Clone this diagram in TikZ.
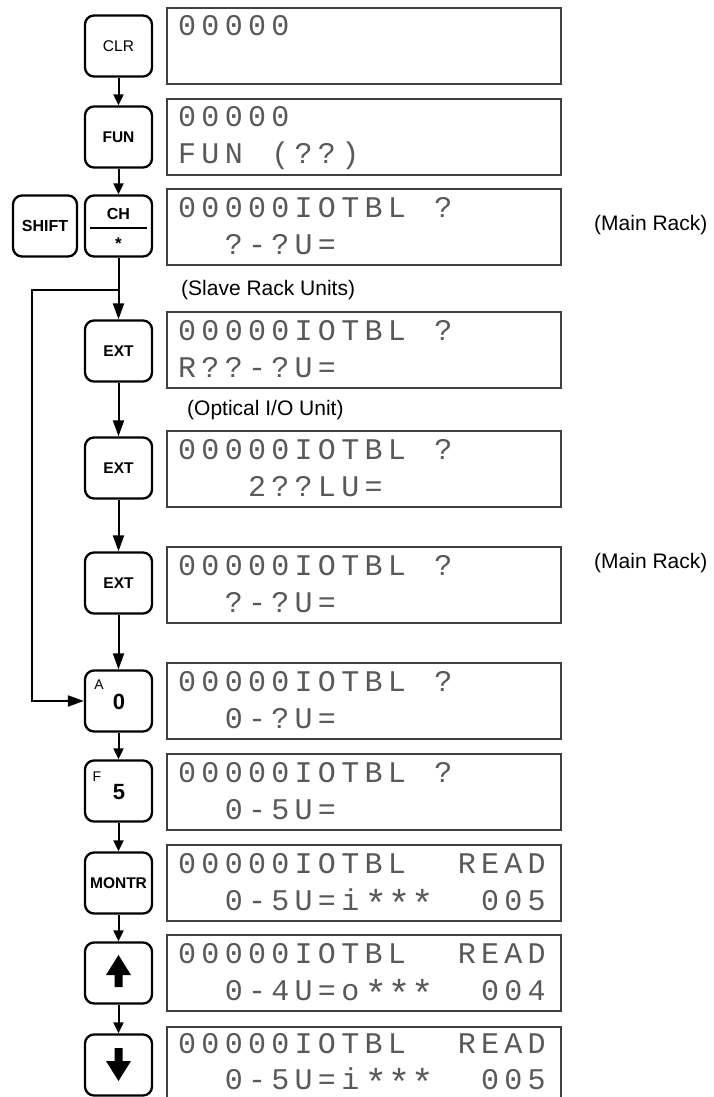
\documentclass[tikz,border=0pt]{standalone}
\usepackage{graphicx}
\usepackage{fontspec}
\setmainfont{Liberation Sans}
\newfontfamily\lcdfont{Liberation Mono}
\usetikzlibrary{arrows.meta}
\def\lcdloop#1{\ifx#1\relax\else\makebox[23.3pt][l]{\ifx#1*\raisebox{-6pt}[14pt][0pt]{\scalebox{1.25}{*}}\else#1\fi}\expandafter\lcdloop\fi}
\newcommand\lcd[1]{\lcdloop#1\relax}
\begin{document}
\begin{tikzpicture}[x=1pt,y=-1pt,
  key/.style={draw, line width=2.3pt, rounded corners=9pt, minimum width=67pt, minimum height=61pt, inner sep=0pt, font=\fontsize{15.5}{17}\selectfont\bfseries},
  lcd/.style={draw=black!75, line width=1.1pt, minimum width=394pt, minimum height=76pt, inner sep=0pt},
  lcdtxt/.style={anchor=base west, inner sep=0pt, font=\fontsize{30}{32}\lcdfont, text=black!65},
  note/.style={font=\fontsize{21}{24}\selectfont, inner sep=0pt, anchor=west},
  small/.style={inner sep=0pt, font=\fontsize{14}{14}\selectfont},
  big/.style={inner sep=0pt, font=\fontsize{22}{22}\selectfont\bfseries},
  flow/.style={line width=2pt, -{Triangle[length=11pt,width=10pt]}},
  longflow/.style={line width=2pt, -{Triangle[length=16pt,width=11pt]}},
]
\useasboundingbox (0,0) rectangle (713,1097);

% keys
\node[key, font=\fontsize{15.5}{17}\selectfont] (clr) at (118.5,46) {CLR};
\node[key] (fun) at (118.5,137) {FUN};
\node[key, minimum width=64pt, font=\fontsize{16}{17}\selectfont\bfseries] (shift) at (45,226) {SHIFT};
\node[key] (ch) at (118.5,226) {};
\node[inner sep=0pt, font=\fontsize{16}{17}\selectfont\bfseries] (chl) at (118.5,214) {CH};
\draw[line width=1.6pt] (90,228) -- (147,228);
\node[inner sep=0pt, font=\fontsize{17}{17}\selectfont\bfseries] (chs) at (118.5,244) {*};
\node[key] (ext1) at (118.5,351) {EXT};
\node[key] (ext2) at (118.5,468) {EXT};
\node[key] (ext3) at (118.5,583) {EXT};
\node[key] (a0) at (118.5,701) {};
\node[small] (a0a) at (99,685) {A};
\node[big] (a0z) at (119,702) {0};
\node[key] (f5) at (118.5,791) {};
\node[small] (f5f) at (97,777) {F};
\node[big] (f5n) at (119,792) {5};
\node[key] (montr) at (118.5,883) {MONTR};
\node[key] (up) at (118.5,973) {};
\fill (118.5,955) -- (131,975) -- (122.5,975) -- (122.5,987) -- (114.5,987) -- (114.5,975) -- (106,975) -- cycle;
\node[key] (down) at (118.5,1065) {};
\fill (118.5,1081) -- (131,1061) -- (122.5,1061) -- (122.5,1048) -- (114.5,1048) -- (114.5,1061) -- (106,1061) -- cycle;

% connectors
\coordinate (br) at (118.5,290);
\coordinate (bl) at (32,290);
\coordinate (bb) at (32,701);
\draw[flow] (clr) -- (fun);
\draw[flow] (fun) -- (ch);
\draw[longflow] (ch) -- (ext1);
\draw[longflow] (br) -- (bl) -- (bb) -- (a0);
\draw[longflow] (ext1) -- (ext2);
\draw[longflow] (ext2) -- (ext3);
\draw[longflow] (ext3) -- (a0);
\draw[flow] (a0) -- (f5);
\draw[flow] (f5) -- (montr);
\draw[flow] (montr) -- (up);
\draw[flow] (up) -- (down);

% displays
\node[lcd] (d1) at (364,46) {};
\node[lcdtxt] (t1a) at (178,36) {\lcd{00000}};
\node[lcd] (d2) at (364,137) {};
\node[lcdtxt] (t2a) at (178,127) {\lcd{00000}};
\node[lcdtxt] (t2b) at (178,164) {\lcd{FUN~(??)}};
\node[lcd] (d3) at (364,227) {};
\node[lcdtxt] (t3a) at (178,217) {\lcd{00000IOTBL~?}};
\node[lcdtxt] (t3b) at (178,254) {\lcd{~~?-?U=}};
\node[lcd] (d4) at (364,350) {};
\node[lcdtxt] (t4a) at (178,340) {\lcd{00000IOTBL~?}};
\node[lcdtxt] (t4b) at (178,377) {\lcd{R??-?U=}};
\node[lcd] (d5) at (364,469) {};
\node[lcdtxt] (t5a) at (178,459) {\lcd{00000IOTBL~?}};
\node[lcdtxt] (t5b) at (178,496) {\lcd{~~~2??LU=}};
\node[lcd] (d6) at (364,585) {};
\node[lcdtxt] (t6a) at (178,575) {\lcd{00000IOTBL~?}};
\node[lcdtxt] (t6b) at (178,612) {\lcd{~~?-?U=}};
\node[lcd] (d7) at (364,701) {};
\node[lcdtxt] (t7a) at (178,691) {\lcd{00000IOTBL~?}};
\node[lcdtxt] (t7b) at (178,728) {\lcd{~~0-?U=}};
\node[lcd] (d8) at (364,792) {};
\node[lcdtxt] (t8a) at (178,782) {\lcd{00000IOTBL~?}};
\node[lcdtxt] (t8b) at (178,819) {\lcd{~~0-5U=}};
\node[lcd] (d9) at (364,883) {};
\node[lcdtxt] (t9a) at (178,873) {\lcd{00000IOTBL~~READ}};
\node[lcdtxt] (t9b) at (178,910) {\lcd{~~0-5U=i***~~005}};
\node[lcd] (d10) at (364,973) {};
\node[lcdtxt] (t10a) at (178,963) {\lcd{00000IOTBL~~READ}};
\node[lcdtxt] (t10b) at (178,1000) {\lcd{~~0-4U=o***~~004}};
\node[lcd] (d11) at (364,1065) {};
\node[lcdtxt] (t11a) at (178,1053) {\lcd{00000IOTBL~~READ}};
\node[lcdtxt] (t11b) at (178,1089) {\lcd{~~0-5U=i***~~005}};

% notes
\node[note] (n1) at (594,225) {(Main Rack)};
\node[note] (n2) at (181,290) {(Slave Rack Units)};
\node[note] (n3) at (187,410) {(Optical I/O Unit)};
\node[note] (n4) at (594,563) {(Main Rack)};
\end{tikzpicture}
\end{document}
